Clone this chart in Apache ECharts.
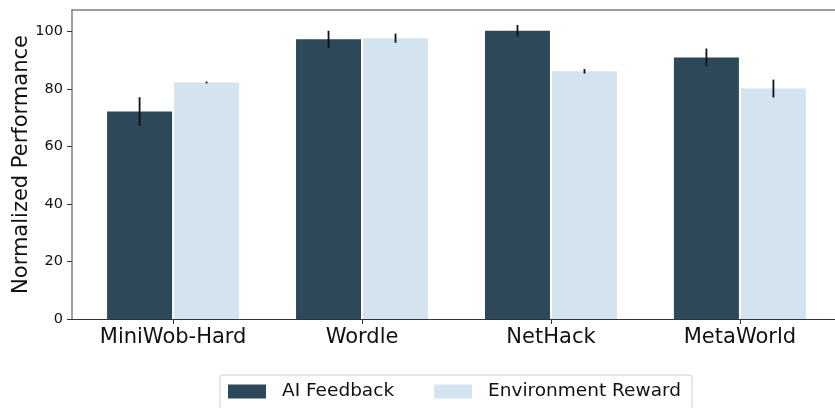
<!DOCTYPE html>
<html>
<head>
<meta charset="utf-8">
<script src="https://cdn.jsdelivr.net/npm/echarts@6/dist/echarts.min.js"></script>
<style>
  html, body { margin: 0; padding: 0; background: #fff; }
  #chart { width: 835px; height: 408px; }
</style>
</head>
<body>
<div id="chart"></div>
<script>
var categories = ['MiniWob-Hard', 'Wordle', 'NetHack', 'MetaWorld'];
var aiFeedback = [72.1, 97.2, 100.2, 90.9];
var aiErr = [5.0, 3.0, 2.0, 3.1];
var envReward = [82.2, 97.6, 86.1, 80.1];
var envErr = [0.3, 1.6, 0.8, 3.1];
var yTicks = [0, 20, 40, 60, 80, 100];

var font = 'DejaVu Sans';
var barW = 65;
var barGapPx = 2;

function pairs(vals) {
    var out = [];
    for (var i = 0; i < vals.length; i++) out.push([i, vals[i]]);
    return out;
}
function errRows(vals, errs) {
    var out = [];
    for (var i = 0; i < vals.length; i++) out.push([i, vals[i] - errs[i], vals[i] + errs[i]]);
    return out;
}
function errorSeries(vals, errs, dir) {
    return {
        type: 'custom',
        silent: true,
        z: 5,
        data: errRows(vals, errs),
        renderItem: function (params, api) {
            var lo = api.coord([api.value(0), api.value(1)]);
            var hi = api.coord([api.value(0), api.value(2)]);
            var x = lo[0] + dir * (barW + barGapPx) / 2;
            return {
                type: 'line',
                shape: {x1: x, y1: lo[1], x2: x, y2: hi[1]},
                style: {stroke: '#111', lineWidth: 1.8}
            };
        }
    };
}

var myChart = echarts.init(document.getElementById('chart'));
myChart.setOption({
    backgroundColor: '#fff',
    animation: false,
    textStyle: {fontFamily: font},
    grid: {left: 72, top: 10, width: 769, height: 309, outerBoundsMode: 'none', containLabel: false},
    legend: {
        left: 220,
        top: 375,
        padding: [7, 11, 8, 8],
        icon: 'rect',
        itemWidth: 38,
        itemHeight: 14,
        itemGap: 40,
        borderColor: '#d0d0d0',
        borderWidth: 1,
        borderRadius: 3,
        textStyle: {fontFamily: font, fontSize: 18.5, color: '#111', padding: [0, 0, 0, 11]},
        data: ['AI Feedback', 'Environment Reward']
    },
    xAxis: [
        {
            type: 'value',
            min: -0.535,
            max: 3.535,
            splitLine: {show: false},
            axisLine: {show: true, onZero: false, lineStyle: {color: '#333', width: 1.2}},
            axisTick: {show: true, length: 5, customValues: [0, 1, 2, 3], lineStyle: {color: '#333'}},
            axisLabel: {
                customValues: [0, 1, 2, 3],
                margin: 8,
                fontSize: 21,
                color: '#111',
                fontFamily: font,
                formatter: function (v) { return categories[Math.round(v)]; }
            }
        },
        {
            type: 'value',
            position: 'top',
            min: -0.535,
            max: 3.535,
            splitLine: {show: false},
            axisLine: {show: true, onZero: false, lineStyle: {color: '#7f7f7f', width: 1.5}},
            axisTick: {show: false},
            axisLabel: {show: false}
        }
    ],
    yAxis: {
        type: 'value',
        min: 0,
        max: 107.4,
        name: 'Normalized Performance',
        nameLocation: 'middle',
        nameGap: 40,
        nameMoveOverlap: false,
        nameTextStyle: {fontSize: 21, color: '#111', fontFamily: font},
        splitLine: {show: false},
        axisLine: {show: true, onZero: false, lineStyle: {color: '#7f7f7f', width: 1.5}},
        axisTick: {show: true, length: 5, customValues: yTicks, lineStyle: {color: '#333'}},
        axisLabel: {customValues: yTicks, fontSize: 14.5, color: '#111', margin: 9, fontFamily: font}
    },
    series: [
        {
            name: 'AI Feedback',
            type: 'bar',
            barWidth: barW,
            barGap: (barGapPx / barW * 100) + '%',
            itemStyle: {color: '#2d4859'},
            data: pairs(aiFeedback)
        },
        {
            name: 'Environment Reward',
            type: 'bar',
            barWidth: barW,
            itemStyle: {color: '#d4e4ee'},
            data: pairs(envReward)
        },
        errorSeries(aiFeedback, aiErr, -1),
        errorSeries(envReward, envErr, 1)
    ]
});
</script>
</body>
</html>
